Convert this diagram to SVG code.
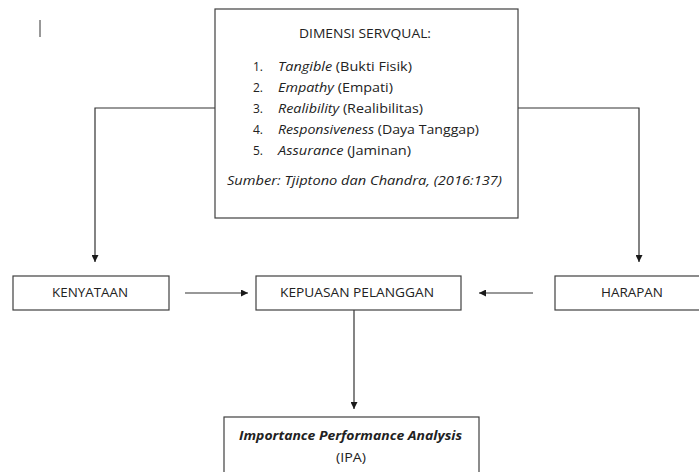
<svg xmlns="http://www.w3.org/2000/svg" width="699" height="472" viewBox="0 0 699 472">
<defs>
<marker id="ah" viewBox="0 0 10 10" refX="10" refY="5" markerWidth="7" markerHeight="7" markerUnits="userSpaceOnUse" orient="auto">
<path d="M0,0 L10,5 L0,10 z" fill="#1a1a1a"/>
</marker>
<style>
.box{fill:#fff;stroke:#404040;stroke-width:1.2}
.ln{fill:none;stroke:#333;stroke-width:1.2}
text{font-family:"Open Sans","Liberation Sans",sans-serif;font-size:12px;fill:#222}
.c{text-anchor:middle}
.i{font-style:italic}
</style>
</defs>
<rect width="699" height="472" fill="#fff"/>
<line x1="40" y1="20" x2="40" y2="37" stroke="#333" stroke-width="1"/>
<g id="connectors">
<path class="ln" d="M215,108 H95 V262" marker-end="url(#ah)"/>
<path class="ln" d="M518,108 H639 V262" marker-end="url(#ah)"/>
<path class="ln" d="M185,293 H248" marker-end="url(#ah)"/>
<path class="ln" d="M533,293 H479" marker-end="url(#ah)"/>
<path class="ln" d="M354,310 V409" marker-end="url(#ah)"/>
</g>
<g id="servqual">
<rect class="box" x="215" y="9" width="303" height="209"/>
<text x="299" y="38" textLength="132" lengthAdjust="spacingAndGlyphs">DIMENSI SERVQUAL:</text>
<text x="253" y="71">1.</text><text x="278" y="71" textLength="134" lengthAdjust="spacingAndGlyphs"><tspan class="i">Tangible</tspan> (Bukti Fisik)</text>
<text x="253" y="92">2.</text><text x="278" y="92" textLength="115" lengthAdjust="spacingAndGlyphs"><tspan class="i">Empathy</tspan> (Empati)</text>
<text x="253" y="113">3.</text><text x="278" y="113" textLength="145" lengthAdjust="spacingAndGlyphs"><tspan class="i">Realibility</tspan> (Realibilitas)</text>
<text x="253" y="134">4.</text><text x="278" y="134" textLength="201" lengthAdjust="spacingAndGlyphs"><tspan class="i">Responsiveness</tspan> (Daya Tanggap)</text>
<text x="253" y="155">5.</text><text x="278" y="155" textLength="133" lengthAdjust="spacingAndGlyphs"><tspan class="i">Assurance</tspan> (Jaminan)</text>
<text class="i" x="227" y="185" textLength="275" lengthAdjust="spacingAndGlyphs">Sumber: Tjiptono dan Chandra, (2016:137)</text>
</g>
<g id="kenyataan">
<rect class="box" x="13" y="276" width="156" height="34"/>
<text x="52" y="297" textLength="76" lengthAdjust="spacingAndGlyphs">KENYATAAN</text>
</g>
<g id="kepuasan">
<rect class="box" x="256" y="276" width="205" height="34"/>
<text x="280" y="297" textLength="154" lengthAdjust="spacingAndGlyphs">KEPUASAN PELANGGAN</text>
</g>
<g id="harapan">
<rect class="box" x="555" y="276" width="150" height="34"/>
<text x="601" y="297" textLength="62" lengthAdjust="spacingAndGlyphs">HARAPAN</text>
</g>
<g id="ipa">
<rect class="box" x="224" y="417" width="255" height="60"/>
<text class="i" x="239" y="440" font-weight="bold" textLength="223" lengthAdjust="spacingAndGlyphs">Importance Performance Analysis</text>
<text x="336" y="462" textLength="30" lengthAdjust="spacingAndGlyphs">(IPA)</text>
</g>
</svg>
